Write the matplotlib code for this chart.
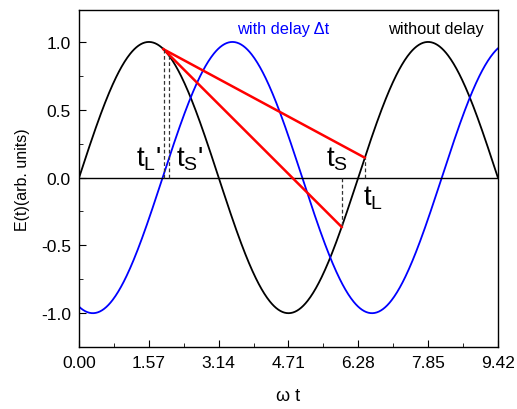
import numpy as np
import matplotlib.pyplot as plt
from matplotlib.ticker import MultipleLocator

plt.rcParams['font.family'] = 'Liberation Sans'
plt.rcParams['mathtext.fontset'] = 'custom'
plt.rcParams['mathtext.rm'] = 'Liberation Sans'
plt.rcParams['mathtext.it'] = 'Liberation Sans'

# phase delay of the blue wave
delay = 1.88
x_max = 9.42
xtick_vals = [0.0, 1.5708, 3.1416, 4.7124, 6.2832, 7.854, 9.4248]
xtick_labels = ["0.00", "1.57", "3.14", "4.71", "6.28", "7.85", "9.42"]

# marked times on the black curve
t_L_prime = 1.90
t_S_prime = 2.02
t_S = 5.91
t_L = 6.43

wt = np.linspace(0, x_max, 600)
e_plain = np.sin(wt)
e_delay = np.sin(wt - delay)

fig = plt.figure(figsize=(5.17, 4.10), dpi=100)
ax = fig.add_axes([0.153, 0.151, 0.810, 0.822])

ax.plot(wt, e_plain, color='black', lw=1.3)
ax.plot(wt, e_delay, color='blue', lw=1.3)
ax.axhline(0, color='black', lw=1.0)

# red chords from the early point to the two later ones
y_start = np.sin(t_L_prime)
ax.plot([t_L_prime, t_L], [y_start, np.sin(t_L)], color='red', lw=1.8)
ax.plot([t_L_prime, t_S], [y_start, np.sin(t_S)], color='red', lw=1.8)

# dashed drop lines
for t in [t_L_prime, t_S_prime, t_S, t_L]:
    ax.plot([t, t], [0, np.sin(t)], color='#333333', lw=0.9, ls=(0, (3, 2)))

ax.text(1.27, 0.04, r"$\mathrm{t_L}$'", fontsize=20, ha='left', va='bottom')
ax.text(2.17, 0.04, r"$\mathrm{t_S}$'", fontsize=20, ha='left', va='bottom')
ax.text(5.55, 0.04, r"$\mathrm{t_S}$", fontsize=20, ha='left', va='bottom')
ax.text(6.40, -0.25, r"$\mathrm{t_L}$", fontsize=20, ha='left', va='bottom')

ax.text(3.56, 1.10, "with delay \u0394t", color='blue', fontsize=11.8, ha='left', va='center')
ax.text(6.95, 1.10, "without delay", color='black', fontsize=11.8, ha='left', va='center')

ax.set_xlim(0, x_max + 0.005)
ax.set_ylim(-1.25, 1.235)
ax.set_xticks(xtick_vals)
ax.set_xticklabels(xtick_labels)
ax.xaxis.set_minor_locator(MultipleLocator(np.pi / 4))
ax.set_yticks([-1.0, -0.5, 0.0, 0.5, 1.0])
ax.set_yticklabels(["-1.0", "-0.5", "0.0", "0.5", "1.0"])
ax.yaxis.set_minor_locator(MultipleLocator(0.25))
ax.tick_params(which='major', direction='in', length=5, labelsize=12.5, pad=6)
ax.tick_params(which='minor', direction='in', length=3)
for s in ax.spines.values():
    s.set_linewidth(1.0)

ax.set_xlabel("\u03c9 t", fontsize=13, labelpad=12)
ax.set_ylabel("E(t)(arb. units)", fontsize=11.5, labelpad=8)

fig.savefig("out.png", dpi=100)
